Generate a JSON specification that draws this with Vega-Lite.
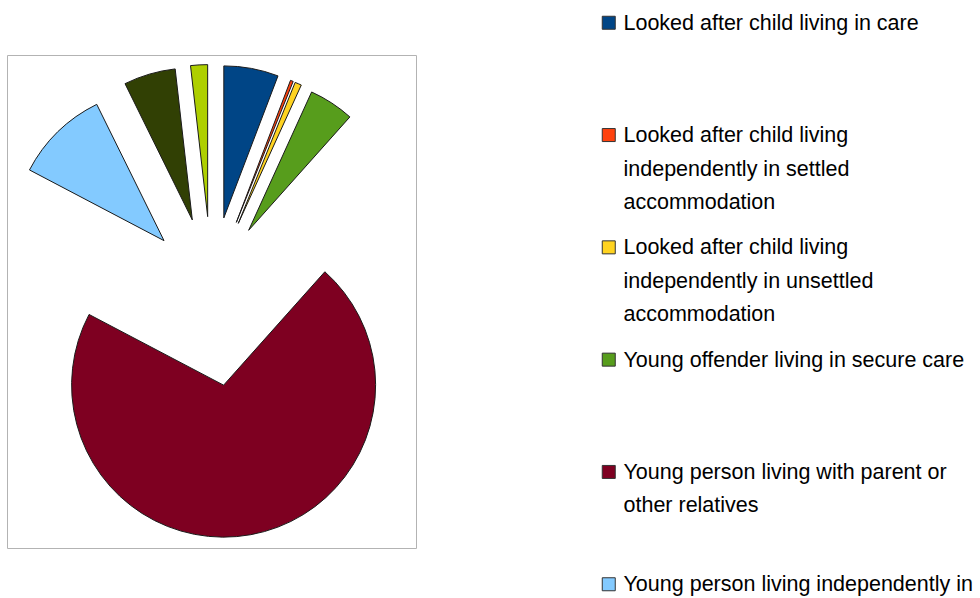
{
  "$schema": "https://vega.github.io/schema/vega-lite/v6.json",
  "width": 409,
  "height": 493,
  "autosize": {"type": "none"},
  "padding": {"left": 7, "top": 55, "right": 564, "bottom": 50},
  "background": "white",
  "view": {"stroke": "#b3b3b3", "strokeWidth": 1, "fill": "white"},
  "data": {
    "values": [
      {"category": "Looked after child living in care", "percent": 5.8, "order": 1},
      {"category": "Looked after child living independently in settled accommodation", "percent": 0.3, "order": 2},
      {"category": "Looked after child living independently in unsettled accommodation", "percent": 0.7, "order": 3},
      {"category": "Young offender living in secure care", "percent": 4.8, "order": 4},
      {"category": "Young person living with parent or other relatives", "percent": 71.1, "order": 5},
      {"category": "Young person living independently in settled accommodation", "percent": 10.0, "order": 6},
      {"category": "Young person living independently in unsettled accommodation", "percent": 5.5, "order": 7},
      {"category": "Other", "percent": 1.8, "order": 8}
    ]
  },
  "mark": {
    "type": "arc",
    "radius": 152,
    "stroke": "#1a1a1a",
    "strokeWidth": 1,
    "xOffset": {"expr": "68*sin((scale('theta', datum.percent_start) + scale('theta', datum.percent_end))/2)"},
    "yOffset": {"expr": "-85*cos((scale('theta', datum.percent_start) + scale('theta', datum.percent_end))/2)"}
  },
  "encoding": {
    "theta": {"field": "percent", "type": "quantitative", "stack": true},
    "order": {"field": "order", "type": "quantitative"},
    "color": {
      "field": "category",
      "type": "nominal",
      "sort": null,
      "scale": {"range": ["#004586", "#ff420e", "#ffd320", "#579d1c", "#7e0021", "#83caff", "#314004", "#aecf00"]},
      "legend": {
        "title": null,
        "orient": "none",
        "legendX": 591,
        "legendY": -43,
        "direction": "vertical",
        "columns": 1,
        "gridAlign": "all",
        "padding": 0,
        "symbolType": "square",
        "symbolSize": 169,
        "symbolStrokeColor": "#333333",
        "symbolStrokeWidth": 1,
        "symbolOpacity": 1,
        "labelFont": "Liberation Sans",
        "labelFontSize": 21.5,
        "labelColor": "#000000",
        "labelLimit": 0,
        "labelOffset": 4,
        "labelBaseline": "alphabetic",
        "rowPadding": 22.3,
        "labelExpr": "datum.label == 'Looked after child living independently in settled accommodation' ? ['Looked after child living', 'independently in settled', 'accommodation'] : datum.label == 'Looked after child living independently in unsettled accommodation' ? ['Looked after child living', 'independently in unsettled', 'accommodation'] : datum.label == 'Young person living with parent or other relatives' ? ['Young person living with parent or', 'other relatives'] : datum.label == 'Young person living independently in settled accommodation' ? ['Young person living independently in', 'settled accommodation'] : datum.label == 'Young person living independently in unsettled accommodation' ? ['Young person living independently in', 'unsettled accommodation'] : datum.label"
      }
    }
  },
  "config": {
    "style": {"guide-label": {"lineHeight": 33.5, "dy": 7}}
  }
}
